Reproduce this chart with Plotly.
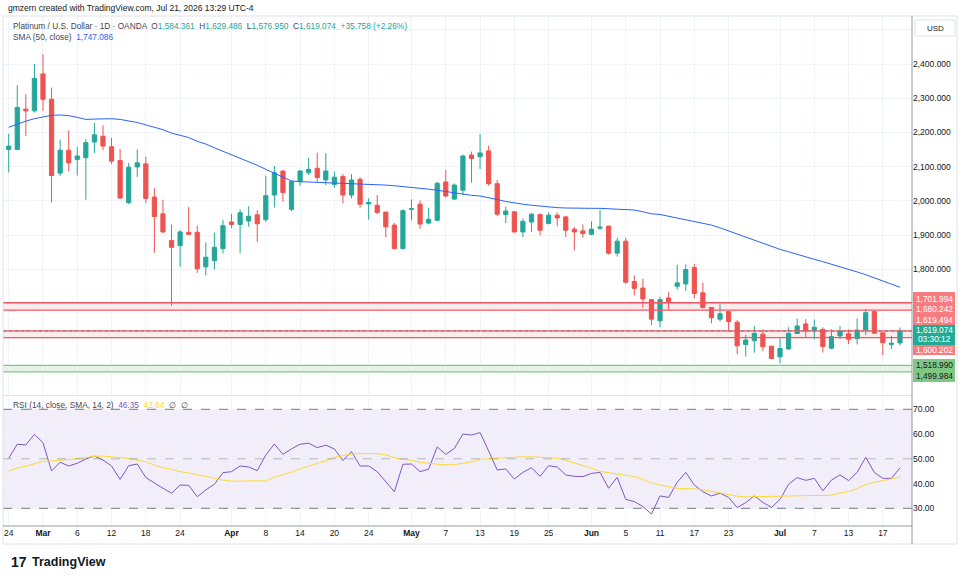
import plotly.graph_objects as go

# ---------------- data ----------------
opens = [2150, 2150, 2268, 2263, 2371, 2297, 2081, 2148, 2121, 2126,
         2172, 2189, 2158, 2118, 1995, 2099, 2108, 2011, 1962, 1884,
         1869, 1908, 1908, 1807, 1825, 1860, 1938, 1931, 1941, 1959,
         1945, 2017, 2087, 1975, 2056, 2082, 2095, 2061, 2048, 2071,
         2017, 2063, 1991, 1987, 1967, 1929, 1860, 1975, 1990, 1935,
         1943, 2055, 2005, 2031, 2134, 2129, 2146, 2050, 1960, 1968,
         1909, 1938, 1960, 1934, 1958, 1953, 1917, 1912, 1902, 1920,
         1926, 1847, 1882, 1764, 1745, 1711, 1649, 1716, 1750, 1757,
         1805, 1731, 1688, 1654, 1676, 1645, 1580, 1591, 1610, 1575,
         1544, 1567, 1612, 1640, 1620, 1624, 1569, 1605, 1611, 1597,
         1622, 1676, 1614, 1580, 1584.361]
highs = [2196, 2338, 2312, 2400, 2429, 2331, 2179, 2206, 2158, 2180,
         2228, 2221, 2184, 2152, 2111, 2150, 2129, 2037, 2003, 1930,
         1915, 1982, 1927, 1878, 1907, 1944, 1962, 1975, 1984, 1973,
         2073, 2102, 2089, 2058, 2090, 2126, 2141, 2139, 2085, 2078,
         2078, 2069, 2007, 2017, 1968, 1935, 1975, 2004, 2001, 1980,
         2056, 2090, 2051, 2135, 2144, 2195, 2161, 2061, 1982, 1968,
         1948, 1963, 1963, 1966, 1966, 1956, 1924, 1931, 1940, 1973,
         1926, 1892, 1892, 1782, 1772, 1711, 1720, 1733, 1813, 1814,
         1815, 1761, 1688, 1698, 1676, 1651, 1608, 1634, 1624, 1575,
         1598, 1630, 1656, 1654, 1653, 1630, 1624, 1634, 1624, 1656,
         1683, 1676, 1614, 1605, 1629.486]
lows = [2083, 2148, 2189, 2258, 2263, 1995, 2072, 2086, 2074, 2003,
        2140, 2148, 2108, 2005, 1990, 2070, 1993, 1848, 1905, 1694,
        1807, 1900, 1789, 1782, 1799, 1846, 1920, 1847, 1924, 1880,
        1938, 1980, 1997, 1970, 2044, 2075, 2056, 2046, 2038, 1992,
        2007, 1980, 1945, 1961, 1894, 1860, 1858, 1943, 1918, 1931,
        1940, 2010, 2003, 2017, 2053, 2093, 2044, 1955, 1935, 1907,
        1894, 1909, 1899, 1931, 1926, 1894, 1855, 1892, 1899, 1914,
        1843, 1837, 1757, 1723, 1688, 1637, 1630, 1681, 1740, 1737,
        1715, 1685, 1642, 1647, 1617, 1551, 1544, 1556, 1561, 1537,
        1525, 1564, 1611, 1601, 1595, 1556, 1566, 1595, 1581, 1580,
        1608, 1612, 1549, 1566, 1576.950]
closes = [2160, 2273, 2263, 2358, 2297, 2074, 2148, 2111, 2131, 2170,
          2193, 2160, 2116, 2008, 2098, 2111, 2007, 1954, 1909, 1864,
          1909, 1902, 1801, 1835, 1864, 1927, 1931, 1965, 1955, 1933,
          2015, 2082, 2024, 2056, 2087, 2092, 2068, 2087, 2069, 2017,
          2061, 1990, 1995, 1966, 1924, 1860, 1971, 1977, 1932, 1946,
          2051, 2014, 2046, 2131, 2124, 2140, 2050, 1961, 1970, 1909,
          1940, 1961, 1914, 1958, 1950, 1914, 1909, 1904, 1917, 1923,
          1847, 1882, 1762, 1744, 1713, 1654, 1711, 1705, 1760, 1799,
          1729, 1688, 1658, 1670, 1647, 1576, 1593, 1612, 1573, 1539,
          1568, 1612, 1634, 1620, 1630, 1574, 1603, 1619, 1595, 1622,
          1673, 1613, 1585, 1583.316, 1619.074]
sma50 = [2215, 2225, 2233, 2240, 2246, 2250, 2251, 2249, 2244, 2238,
         2239, 2240, 2240, 2238, 2234, 2229, 2222, 2215, 2208, 2198,
         2192, 2185, 2174, 2166, 2155, 2145, 2133, 2123, 2114, 2104,
         2092, 2080, 2068, 2058, 2056, 2055, 2054, 2054, 2053, 2053,
         2052, 2051, 2049, 2048, 2046, 2044, 2042, 2039, 2036, 2034,
         2031, 2027, 2022, 2018, 2016, 2014, 2010, 2004, 1998, 1993,
         1990, 1987, 1984, 1982, 1980, 1979, 1978, 1978, 1978, 1978,
         1977, 1976, 1975, 1973, 1968, 1962, 1960, 1955, 1950, 1946,
         1941, 1936, 1929, 1921, 1912, 1903, 1893, 1884, 1875, 1866,
         1858, 1851, 1843, 1836, 1829, 1822, 1815, 1808, 1800, 1792,
         1784, 1775, 1766, 1757, 1747.086]
rsi = [50.2, 55.9, 55.6, 59.9, 56.5, 45.1, 48.6, 47.1, 48.2, 49.9,
       51.1, 49.5, 47.1, 41.7, 47.2, 47.9, 42.4, 40.1, 38.1, 36.1,
       39.4, 39.3, 34.7, 37.4, 39.7, 44.4, 44.8, 47.1, 46.7, 45.2,
       51.5, 56.0, 51.8, 54.0, 55.9, 56.3, 54.5, 55.5, 54.0, 49.3,
       52.9, 47.1, 47.1, 44.8, 40.8, 36.7, 47.8, 47.9, 44.8, 45.8,
       54.8, 51.8, 54.2, 60.0, 59.6, 60.6, 53.2, 45.5, 45.9, 41.8,
       44.5, 46.4, 42.9, 47.2, 46.7, 43.5, 42.9, 42.8, 44.1, 44.5,
       38.1, 42.5, 33.6, 32.7, 30.7, 27.7, 35.0, 34.4, 40.5, 44.5,
       39.4, 36.7, 35.0, 36.1, 34.4, 30.3, 32.3, 35.0, 32.4, 30.3,
       33.6, 39.7, 42.4, 41.3, 42.1, 37.1, 41.4, 43.5, 41.2, 44.5,
       50.6, 44.5, 42.1, 42.1, 46.35]
rsi_sma = [45.0, 46.3, 47.0, 48.0, 49.0, 49.1, 49.3, 49.7, 50.1, 50.6,
           51.0, 51.1, 50.9, 50.5, 50.1, 49.4, 48.8, 47.5, 46.4, 45.8,
           44.8, 44.3, 43.7, 42.9, 42.2, 41.4, 41.0, 41.0, 41.2, 41.1,
           41.0, 42.6, 43.6, 44.6, 46.0, 47.0, 48.1, 49.2, 50.6, 51.4,
           52.0, 52.1, 52.1, 52.1, 51.6, 50.4, 49.8, 49.4, 48.6, 48.1,
           47.8, 47.6, 47.6, 48.2, 48.8, 49.8, 50.0, 50.1, 50.5, 50.8,
           50.8, 50.8, 50.7, 50.6, 50.2, 49.4, 48.4, 47.4, 46.2, 44.9,
           44.3, 43.8, 43.3, 42.8, 41.7, 40.2, 39.4, 38.8, 38.1, 37.9,
           37.9, 37.5, 36.8, 36.2, 35.6, 34.9, 34.6, 34.7, 34.8, 34.9,
           35.1, 35.2, 35.2, 35.2, 35.2, 35.2, 35.3, 36.2, 36.8, 38.0,
           39.6, 40.5, 41.1, 41.9, 42.64]

tick_idx = [0, 4, 8, 12, 16, 20, 26, 30, 34, 38, 42, 47, 51, 55, 59, 63,
            68, 72, 76, 80, 84, 90, 94, 98, 102]
tick_text = ["24", "<b>Mar</b>", "6", "12", "18", "24", "<b>Apr</b>", "8", "14", "20", "24",
             "<b>May</b>", "7", "13", "19", "25", "<b>Jun</b>", "5", "11", "17", "23",
             "<b>Jul</b>", "7", "13", "17"]
price_ticks = [1500, 1600, 1700, 1800, 1900, 2000, 2100, 2200, 2300, 2400, 2500]
price_tick_text = ["", "", "", "1,800.000", "1,900.000", "2,000.000", "2,100.000",
                   "2,200.000", "2,300.000", "2,400.000", ""]
rsi_ticks = [30, 40, 50, 60, 70]

red_band_1 = [1701.994, 1680.242]
red_band_2 = [1619.494, 1600.202]
green_band = [1518.990, 1499.984]
last_price = closes[-1]
countdown = "03:30:12"

# ---------------- layout helpers ----------------
W, H = 964, 582
def px_x(p):
    return p / W
def px_y(p):
    return 1 - p / H

FONT = "Liberation Sans"
TXT = "#131722"
GRID = "#f0f3fa"
UP, DOWN = "#26a69a", "#ef5350"

x = list(range(len(closes)))

fig = go.Figure()
fig.add_trace(go.Candlestick(
    x=x, open=opens, high=highs, low=lows, close=closes,
    increasing=dict(line=dict(color=UP, width=1), fillcolor=UP),
    decreasing=dict(line=dict(color=DOWN, width=1), fillcolor=DOWN),
    whiskerwidth=0, xaxis="x", yaxis="y", hoverinfo="skip", showlegend=False))
fig.add_trace(go.Scatter(x=x, y=sma50, mode="lines", line=dict(color="#2962ff", width=1),
                         xaxis="x", yaxis="y", hoverinfo="skip", showlegend=False))
fig.add_trace(go.Scatter(x=x, y=rsi, mode="lines", line=dict(color="#7e57c2", width=1),
                         xaxis="x2", yaxis="y2", hoverinfo="skip", showlegend=False))
fig.add_trace(go.Scatter(x=x, y=rsi_sma, mode="lines", line=dict(color="#fdd835", width=1),
                         xaxis="x2", yaxis="y2", hoverinfo="skip", showlegend=False))

xdom = [px_x(3), px_x(912)]
xrange = [-0.665, 105.4]
shapes = []
for band, fill, lc in [(red_band_1, "rgba(242,54,69,0.10)", "#f7525f"),
                       (red_band_2, "rgba(242,54,69,0.10)", "#f7525f"),
                       (green_band, "rgba(76,175,80,0.14)", "#81c784")]:
    shapes.append(dict(type="rect", xref="x domain", yref="y", x0=0, x1=1,
                       y0=band[1], y1=band[0], fillcolor=fill, line=dict(width=0), layer="below"))
    for lv in band:
        shapes.append(dict(type="line", xref="x domain", yref="y", x0=0, x1=1,
                           y0=lv, y1=lv, line=dict(color=lc, width=1.3)))
shapes.append(dict(type="line", xref="x domain", yref="y", x0=0, x1=1,
                   y0=last_price, y1=last_price, line=dict(color=UP, width=1, dash="dot")))
shapes.append(dict(type="rect", xref="x2 domain", yref="y2", x0=0, x1=1, y0=30, y1=70,
                   fillcolor="rgba(126,87,194,0.10)", line=dict(width=0), layer="below"))
for lv, col in [(70, "#787b86"), (50, "rgba(120,123,134,0.5)"), (30, "#787b86")]:
    shapes.append(dict(type="line", xref="x2 domain", yref="y2", x0=0, x1=1, y0=lv, y1=lv,
                       line=dict(color=col, width=1, dash="dash")))
shapes.append(dict(type="rect", xref="paper", yref="paper", x0=px_x(3), x1=px_x(957),
                   y0=px_y(544), y1=px_y(16), line=dict(color="#e0e3eb", width=1)))
shapes.append(dict(type="line", xref="paper", yref="paper", x0=px_x(3), x1=px_x(912),
                   y0=px_y(395.5), y1=px_y(395.5), line=dict(color="#e0e3eb", width=1)))
shapes.append(dict(type="line", xref="paper", yref="paper", x0=px_x(912), x1=px_x(912),
                   y0=px_y(544), y1=px_y(16), line=dict(color="#9598a1", width=1)))
shapes.append(dict(type="line", xref="paper", yref="paper", x0=px_x(3), x1=px_x(912),
                   y0=px_y(526), y1=px_y(526), line=dict(color="#9598a1", width=1)))
for top, bot, col in [(292, 325, "#f77c80"), (325, 345, "#22ab94"),
                      (345, 355, "#f77c80"), (359, 382, "#81c784")]:
    shapes.append(dict(type="rect", xref="paper", yref="paper", x0=px_x(913), x1=px_x(955),
                       y0=px_y(bot), y1=px_y(top), fillcolor=col, line=dict(width=0)))
shapes.append(dict(type="rect", xref="paper", yref="paper", x0=px_x(915), x1=px_x(955),
                   y0=px_y(36), y1=px_y(20), fillcolor="white",
                   line=dict(color="#e0e3eb", width=1)))

ann = []
def add_text(xp, yp, text, size=8.5, color=TXT, xanchor="left"):
    ann.append(dict(xref="paper", yref="paper", x=px_x(xp), y=px_y(yp),
                    text=text, showarrow=False, xanchor=xanchor, yanchor="middle",
                    font=dict(family=FONT, size=size, color=color)))

chg = closes[-1] - closes[-2]
add_text(6, 8, "gmzern created with TradingView.com, Jul 21, 2026 13:29 UTC-4", size=8.5)
t = lambda s: f"<span style='color:{UP}'>{s}</span>"
add_text(11, 26, "Platinum / U.S. Dollar · 1D · OANDA  O" + t(f"{opens[-1]:,.3f}") +
         "  H" + t(f"{highs[-1]:,.3f}") + "  L" + t(f"{lows[-1]:,.3f}") +
         "  C" + t(f"{closes[-1]:,.3f}") + "  " +
         t(f"+{chg:,.3f} (+{chg / closes[-2] * 100:.2f}%)"),
         size=8.3, color="#434651")
add_text(11, 37, "SMA (50, close)  <span style='color:#2962ff'>" + f"{sma50[-1]:,.3f}" + "</span>",
         size=8.3, color="#434651")
add_text(11, 405, "RSI (14, close, SMA, 14, 2)  <span style='color:#7e57c2'>" + f"{rsi[-1]:.2f}" +
         "</span>  <span style='color:#fdd835'>" + f"{rsi_sma[-1]:.2f}" + "</span>  ∅  ∅",
         size=8.3, color="#434651")
add_text(935, 28, "USD", size=8, xanchor="center")
for val, ypix, col in [(red_band_1[0], 298.5, "white"), (red_band_1[1], 309, "white"),
                       (red_band_2[0], 319.5, "white"), (last_price, 329.5, "white"),
                       (red_band_2[1], 349.5, "white"), (green_band[0], 365, TXT),
                       (green_band[1], 375.5, TXT)]:
    add_text(934, ypix, f"{val:,.3f}", size=8.3, color=col, xanchor="center")
add_text(934, 338.5, countdown, size=8.3, color="white", xanchor="center")
add_text(9, 562, "<b>17</b>", size=14, color=TXT)
add_text(30, 562, "<b>TradingView</b>", size=12.5, color=TXT)

axis_font = dict(family=FONT, size=8.5, color="#131722")
fig.update_layout(
    width=W, height=H, margin=dict(l=0, r=0, t=0, b=0),
    paper_bgcolor="white", plot_bgcolor="white",
    showlegend=False, shapes=shapes, annotations=ann,
    xaxis=dict(domain=xdom, range=xrange, anchor="y", tickvals=tick_idx, showticklabels=False,
               showgrid=True, gridcolor=GRID, zeroline=False, showline=False, ticks="",
               rangeslider=dict(visible=False), fixedrange=True),
    yaxis=dict(domain=[px_y(394), px_y(16)], range=[1435.1, 2540.4], side="right", anchor="x",
               tickvals=price_ticks, ticktext=price_tick_text, showgrid=True, gridcolor=GRID,
               zeroline=False, showline=False, ticks="", tickfont=axis_font),
    xaxis2=dict(domain=xdom, range=xrange, anchor="y2", tickvals=tick_idx, ticktext=tick_text,
                showgrid=True, gridcolor=GRID, zeroline=False, showline=False, ticks="",
                tickfont=axis_font, matches="x"),
    yaxis2=dict(domain=[px_y(526), px_y(397)], range=[22.85, 74.97], side="right", anchor="x2",
                tickvals=rsi_ticks, tickformat=".2f", showgrid=True, gridcolor=GRID,
                zeroline=False, showline=False, ticks="", tickfont=axis_font),
)
fig.write_html("out.html", config={"displayModeBar": False},
               post_script="document.body.style.margin='0';document.body.style.overflow='hidden';")
